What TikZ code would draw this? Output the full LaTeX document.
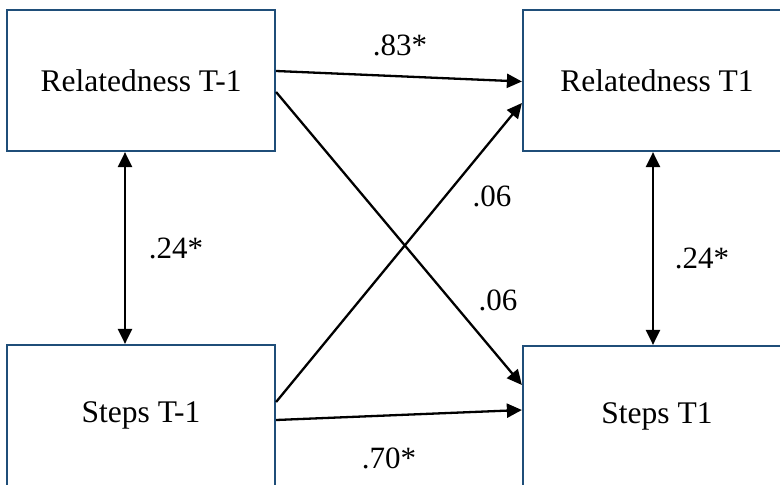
\documentclass[tikz,border=0pt]{standalone}
\usepackage{fontspec}
\setmainfont{Liberation Serif}
\usetikzlibrary{arrows.meta}
\definecolor{boxblue}{RGB}{31,78,121}
\tikzset{
  varbox/.style={draw=boxblue, line width=2.2pt, minimum width=268pt, minimum height=141pt,
    inner sep=0pt, font=\fontsize{31.5}{37}\selectfont},
  path/.style={line width=2.3pt, -{Triangle[length=15pt,width=14pt]}},
  cov/.style={line width=2.3pt, {Triangle[length=15pt,width=14pt]}-{Triangle[length=15pt,width=14pt]}},
  lab/.style={font=\fontsize{31}{37}\selectfont, inner sep=0pt}
}
\begin{document}
\begin{tikzpicture}[x=1pt,y=-1pt]
\useasboundingbox (0,0) rectangle (780,485);
\clip (0,0) rectangle (780,485);
\node[varbox] (rl) at (141,80.5) {\raisebox{-2pt}{Relatedness T-1}};
\node[varbox] (rr) at (657,80.5) {\raisebox{-2pt}{Relatedness T1}};
\node[varbox] (sl) at (141,415.5) {\raisebox{-2pt}{Steps T-1}};
\node[varbox] (sr) at (657,416.5) {\raisebox{-2pt}{Steps T1}};
\draw[path] ([yshift=9.5pt]rl.east) -- ([yshift=-1pt]rr.west);
\draw[path] ([yshift=-11.5pt]rl.east) -- ([yshift=31.5pt]sr.west);
\draw[path] ([yshift=13.5pt]sl.east) -- ([yshift=-22.5pt]rr.west);
\draw[path] ([yshift=-4.5pt]sl.east) -- ([yshift=6.5pt]sr.west);
\draw[cov] ([xshift=-16pt]rl.south) -- ([xshift=-16pt]sl.north);
\draw[cov] ([xshift=-4pt]rr.south) -- ([xshift=-4pt]sr.north);
\node[lab] (l83) at (400,45) {.83*};
\node[lab] (l24a) at (176,248) {.24*};
\node[lab] (l06a) at (492,196) {.06};
\node[lab] (l06b) at (498,300) {.06};
\node[lab] (l24b) at (702,258) {.24*};
\node[lab] (l70) at (389,458) {.70*};
\end{tikzpicture}
\end{document}
